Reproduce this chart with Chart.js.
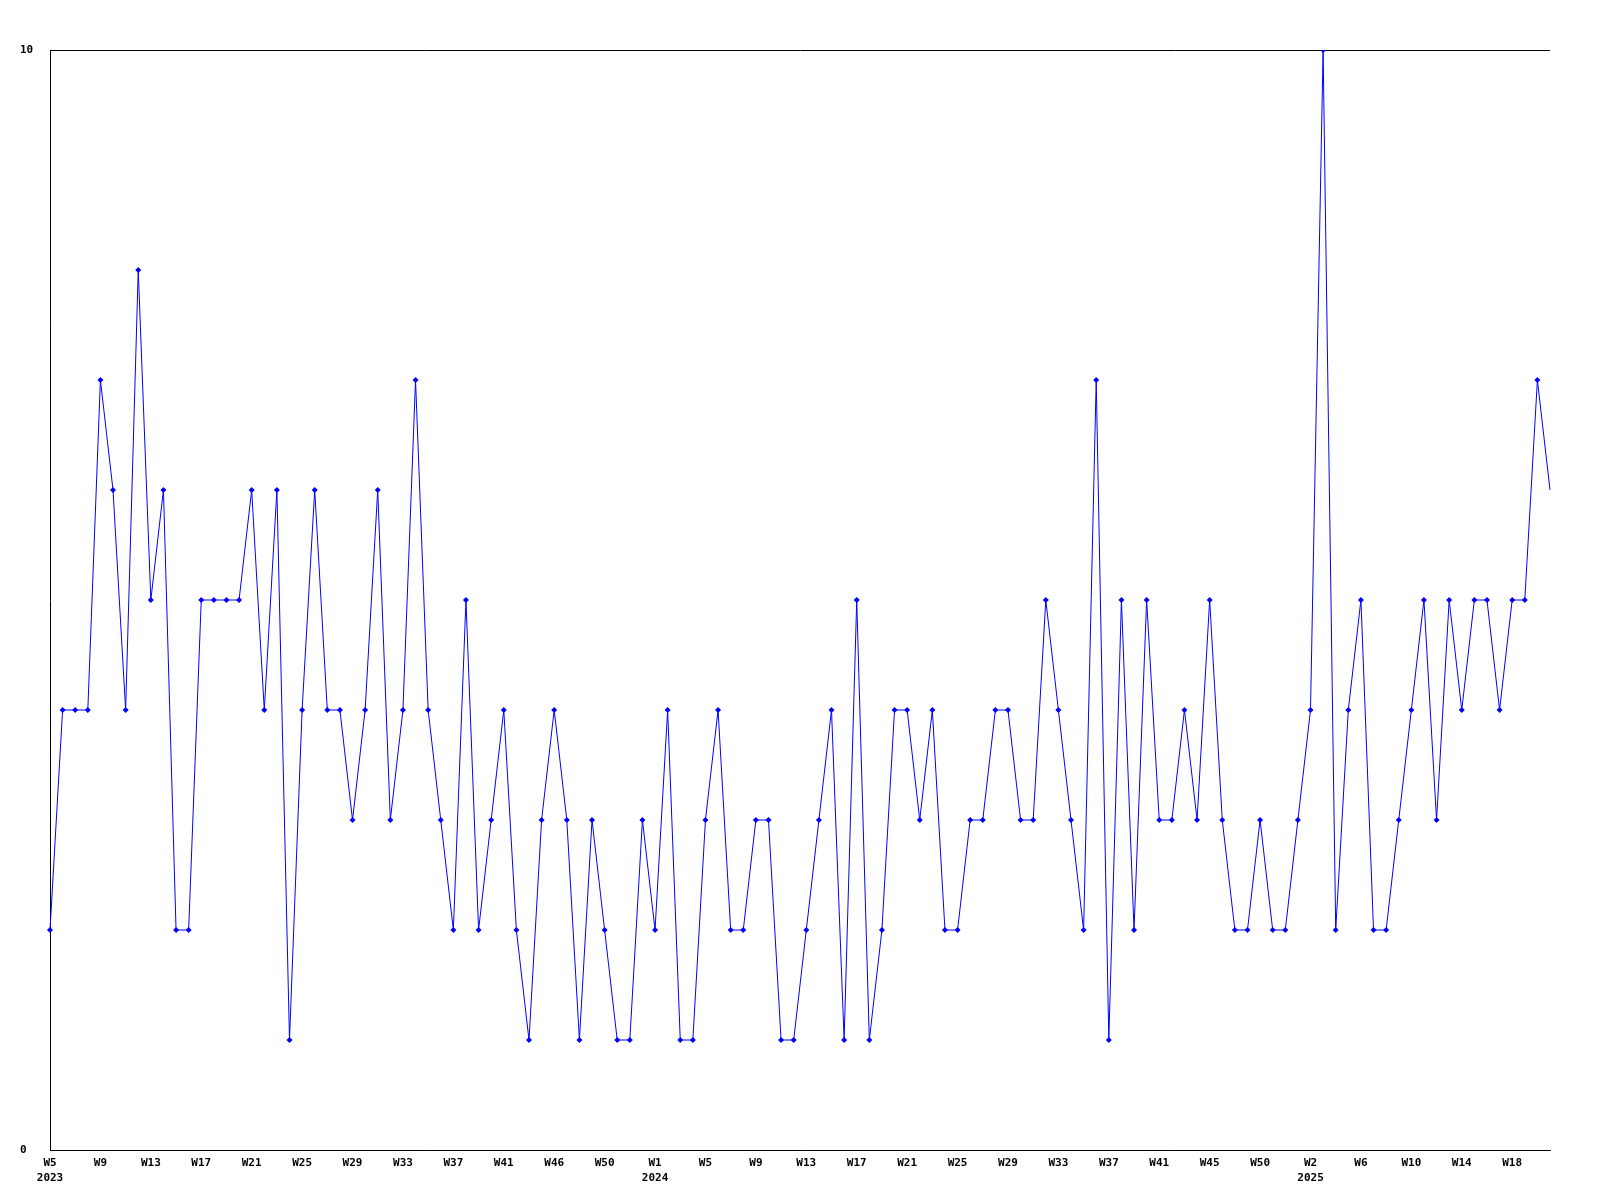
<!DOCTYPE html>
<html>
<head>
<meta charset="utf-8">
<script src="https://cdn.jsdelivr.net/npm/chart.js@4/dist/chart.umd.min.js"></script>
<style>
  html, body { margin: 0; padding: 0; background: #fff; }
  #wrap { width: 1600px; height: 1200px; }
</style>
</head>
<body>
<div id="wrap"><canvas id="chart"></canvas></div>
<script>
// weekly values, 2023 W5 .. 2025 W20
const values = [
    2, 4, 4, 4, 7, 6, 4, 8, 5, 6, 2, 2, 5, 5, 5, 5, 6, 4, 6, 1,
    4, 6, 4, 4, 3, 4, 6, 3, 4, 7, 4, 3, 2, 5, 2, 3, 4, 2, 1, 3,
    4, 3, 1, 3, 2, 1, 1, 3, 2, 4, 1, 1, 3, 4, 2, 2, 3, 3, 1, 1,
    2, 3, 4, 1, 5, 1, 2, 4, 4, 3, 4, 2, 2, 3, 3, 4, 4, 3, 3, 5,
    4, 3, 2, 7, 1, 5, 2, 5, 3, 3, 4, 3, 5, 3, 2, 2, 3, 2, 2, 3,
    4, 10, 2, 4, 5, 2, 2, 3, 4, 5, 3, 5, 4, 5, 5, 4, 5, 5, 7, 6
];

// one label every 4th week, as printed under the axis
const weekTicks = [
    'W5', 'W9', 'W13', 'W17', 'W21', 'W25', 'W29', 'W33', 'W37', 'W41', 'W46', 'W50',
    'W1', 'W5', 'W9', 'W13', 'W17', 'W21', 'W25', 'W29', 'W33', 'W37', 'W41', 'W45', 'W50',
    'W2', 'W6', 'W10', 'W14', 'W18'
];
// year printed under the tick with this position in weekTicks
const yearTicks = { 0: '2023', 12: '2024', 25: '2025' };

const yTicks = [0, 10];

const labels = values.map((v, i) => {
    if (i % 4 !== 0) return '';
    const k = i / 4;
    return yearTicks[k] ? [weekTicks[k], yearTicks[k]] : weekTicks[k];
});

const FONT = { family: "'DejaVu Sans Mono', monospace", size: 11, weight: 'bold', lineHeight: 1.35 };

new Chart(document.getElementById('chart'), {
    type: 'line',
    data: {
        labels: labels,
        datasets: [{
            data: values,
            borderColor: '#0000ff',
            backgroundColor: '#0000ff',
            borderWidth: 1,
            tension: 0,
            fill: false,
            pointStyle: 'rectRot',
            pointRadius: ctx => ctx.dataIndex === values.length - 1 ? 0 : 3,
            pointBorderWidth: 0,
            pointBackgroundColor: '#0000ff'
        }]
    },
    options: {
        responsive: true,
        maintainAspectRatio: false,
        animation: false,
        layout: { padding: { left: 20, right: 50, top: 50, bottom: 0 } },
        plugins: {
            legend: { display: false },
            tooltip: { enabled: false }
        },
        scales: {
            x: {
                offset: false,
                grid: { display: false, drawTicks: false },
                border: { display: true, color: '#000', width: 1 },
                afterFit: axis => { axis.height = 50; },
                ticks: {
                    autoSkip: false,
                    maxRotation: 0,
                    padding: 6,
                    color: '#000',
                    font: FONT
                }
            },
            y: {
                min: yTicks[0],
                max: yTicks[yTicks.length - 1],
                afterFit: axis => { axis.width = 30; },
                afterBuildTicks: axis => { axis.ticks = yTicks.map(v => ({ value: v })); },
                grid: { display: true, color: '#000', lineWidth: 1, drawTicks: false },
                border: { display: true, color: '#000', width: 1 },
                ticks: {
                    crossAlign: 'far',
                    padding: 0,
                    color: '#000',
                    font: FONT
                }
            }
        }
    }
});
</script>
</body>
</html>
